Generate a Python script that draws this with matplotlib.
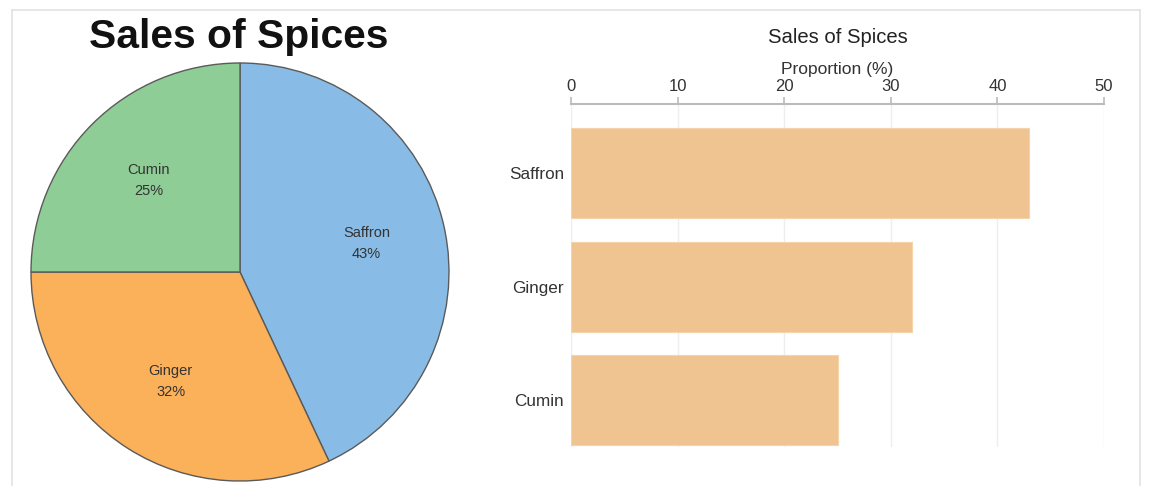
import matplotlib
matplotlib.use("Agg")
import matplotlib.pyplot as plt
import numpy as np
from matplotlib.lines import Line2D

plt.rcParams['font.family'] = ['Liberation Sans', 'DejaVu Sans']

# Data
spices = ["Saffron", "Ginger", "Cumin"]
shares = [43, 32, 25]
pie_colors = ["#88bce6", "#fbb05a", "#8fcd96"]
bar_color = "#f0c491"
x_ticks = [0, 10, 20, 30, 40, 50]
title = "Sales of Spices"
x_label = "Proportion (%)"

W, H = 1149, 486
fig = plt.figure(figsize=(W / 100, H / 100), dpi=100)
fig.patch.set_facecolor("white")


def px_rect(x0, y0, x1, y1):
    """Figure-fraction rect from pixel box (top-left origin)."""
    return [x0 / W, 1 - y1 / H, (x1 - x0) / W, (y1 - y0) / H]


# Light panel frame
for xs, ys in [((12, 1140), (10, 10)), ((12, 12), (10, 486)), ((1140, 1140), (10, 486))]:
    fig.add_artist(Line2D([x / W for x in xs], [1 - y / H for y in ys],
                          color="#e2e2e2", lw=1.2, transform=fig.transFigure))

# Pie chart
cx, cy, r = 240, 272, 209
ax_pie = fig.add_axes(px_rect(cx - r, cy - r, cx + r, cy + r))
wedges, _ = ax_pie.pie(shares, colors=pie_colors, startangle=90, counterclock=False,
                       wedgeprops=dict(edgecolor="#5a5a5a", linewidth=1.0))
for w in wedges:
    w.set_clip_on(False)
ax_pie.set_xlim(-1, 1)
ax_pie.set_ylim(-1, 1)
ax_pie.set_aspect("auto")
ax_pie.axis("off")
for w, name, val in zip(wedges, spices, shares):
    ang = np.deg2rad((w.theta1 + w.theta2) / 2)
    ax_pie.text(0.62 * np.cos(ang), 0.62 * np.sin(ang), f"{name}\n{val}%",
                ha="center", va="center", fontsize=10.5, color="#333333", linespacing=1.6)

fig.text(239 / W, 1 - 48 / H, title, ha="center", va="baseline",
         fontsize=29.3, fontweight="bold", color="#111111")

# Bar chart
ax_bar = fig.add_axes(px_rect(571, 104, 1104, 447))
ypos = np.arange(len(spices))
ax_bar.barh(ypos, shares, height=0.79, color=bar_color, edgecolor="#f5d3ab", linewidth=0.8, zorder=2)
ax_bar.set_xlim(0, 50)
ax_bar.set_ylim(2.41, -0.605)
ax_bar.set_yticks(ypos)
ax_bar.set_yticklabels(spices)
ax_bar.set_xticks(x_ticks)
ax_bar.xaxis.tick_top()
ax_bar.xaxis.set_label_position("top")
ax_bar.set_xlabel(x_label, fontsize=12.5, color="#333333", labelpad=4)
ax_bar.tick_params(axis="x", length=5, width=1.2, color="#bbbbbb", labelsize=12,
                   labelcolor="#333333", pad=2)
ax_bar.tick_params(axis="y", length=0, labelsize=12.3, labelcolor="#333333", pad=5)
ax_bar.grid(axis="x", color="#eeeeee", lw=1, zorder=0)
for s in ["left", "right", "bottom"]:
    ax_bar.spines[s].set_visible(False)
ax_bar.spines["top"].set_color("#bbbbbb")
ax_bar.spines["top"].set_linewidth(1.5)
ax_bar.set_facecolor("white")

fig.text(838 / W, 1 - 43 / H, title, ha="center", va="baseline",
         fontsize=14.6, color="#222222")

fig.savefig("out.png", dpi=100, facecolor="white")
